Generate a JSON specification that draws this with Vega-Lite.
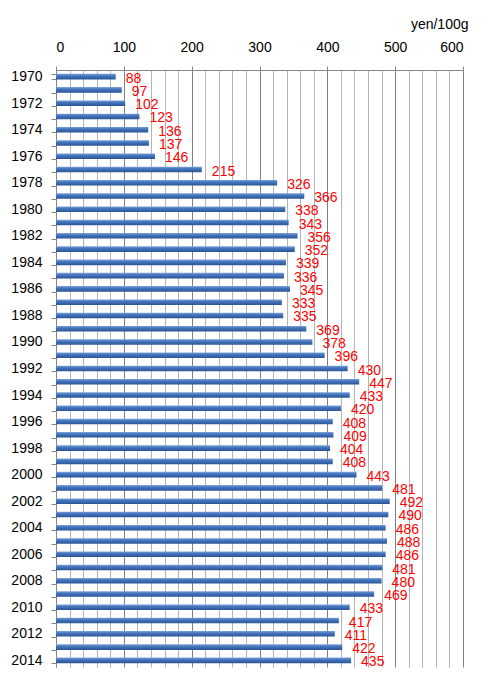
{
  "$schema": "https://vega.github.io/schema/vega-lite/v6.json",
  "autosize": "none",
  "width": 407,
  "height": 597,
  "padding": {"left": 56, "top": 70, "right": 31, "bottom": 22},
  "background": "#ffffff",
  "data": {
    "values": [
      {"year": 1970, "price": 88},
      {"year": 1971, "price": 97},
      {"year": 1972, "price": 102},
      {"year": 1973, "price": 123},
      {"year": 1974, "price": 136},
      {"year": 1975, "price": 137},
      {"year": 1976, "price": 146},
      {"year": 1977, "price": 215},
      {"year": 1978, "price": 326},
      {"year": 1979, "price": 366},
      {"year": 1980, "price": 338},
      {"year": 1981, "price": 343},
      {"year": 1982, "price": 356},
      {"year": 1983, "price": 352},
      {"year": 1984, "price": 339},
      {"year": 1985, "price": 336},
      {"year": 1986, "price": 345},
      {"year": 1987, "price": 333},
      {"year": 1988, "price": 335},
      {"year": 1989, "price": 369},
      {"year": 1990, "price": 378},
      {"year": 1991, "price": 396},
      {"year": 1992, "price": 430},
      {"year": 1993, "price": 447},
      {"year": 1994, "price": 433},
      {"year": 1995, "price": 420},
      {"year": 1996, "price": 408},
      {"year": 1997, "price": 409},
      {"year": 1998, "price": 404},
      {"year": 1999, "price": 408},
      {"year": 2000, "price": 443},
      {"year": 2001, "price": 481},
      {"year": 2002, "price": 492},
      {"year": 2003, "price": 490},
      {"year": 2004, "price": 486},
      {"year": 2005, "price": 488},
      {"year": 2006, "price": 486},
      {"year": 2007, "price": 481},
      {"year": 2008, "price": 480},
      {"year": 2009, "price": 469},
      {"year": 2010, "price": 433},
      {"year": 2011, "price": 417},
      {"year": 2012, "price": 411},
      {"year": 2013, "price": 422},
      {"year": 2014, "price": 435}
    ]
  },
  "encoding": {
    "y": {
      "field": "year",
      "type": "nominal",
      "sort": null,
      "scale": {"paddingInner": 0.58, "paddingOuter": 0.29},
      "axis": {
        "title": null,
        "tickBand": "extent",
        "tickSize": 5,
        "tickColor": "#868686",
        "domainColor": "#868686",
        "labelPadding": 9,
        "labelFontSize": 14,
        "labelColor": "#000000",
        "labelFont": "Liberation Sans",
        "labelExpr": "datum.value % 2 == 0 ? datum.label : ''"
      }
    },
    "x": {
      "field": "price",
      "type": "quantitative",
      "scale": {"domain": [0, 600], "nice": false},
      "axis": {
        "orient": "top",
        "values": [0, 20, 40, 60, 80, 100, 120, 140, 160, 180, 200, 220, 240, 260, 280, 300, 320, 340, 360, 380, 400, 420, 440, 460, 480, 500, 520, 540, 560, 580, 600],
        "labelExpr": "datum.value % 100 == 0 ? datum.label : ''",
        "labelOverlap": false,
        "title": "yen/100g",
        "titleX": 412,
        "titleY": -42,
        "titleAlign": "right",
        "titleBaseline": "alphabetic",
        "titleFontSize": 14,
        "titleFontWeight": "normal",
        "titleFont": "Liberation Sans",
        "titleColor": "#000000",
        "labelFontSize": 14,
        "labelFont": "Liberation Sans",
        "labelColor": "#000000",
        "labelPadding": 12,
        "tickSize": 4,
        "tickColor": "#868686",
        "tickOpacity": {"condition": {"test": "datum.value % 100 == 0", "value": 1}, "value": 0},
        "domainColor": "#868686",
        "grid": true,
        "gridColor": {"condition": {"test": "datum.value % 100 == 0", "value": "#808080"}, "value": "#b4b4b4"},
        "gridOpacity": 1,
        "gridWidth": 1
      }
    }
  },
  "layer": [
    {
      "mark": {
        "type": "bar",
        "color": {
          "gradient": "linear",
          "x1": 0, "y1": 0, "x2": 0, "y2": 1,
          "stops": [
            {"offset": 0, "color": "#7ea3d6"},
            {"offset": 0.35, "color": "#4677c0"},
            {"offset": 1, "color": "#2b5595"}
          ]
        }
      }
    },
    {
      "mark": {
        "type": "text",
        "align": "left",
        "baseline": "middle",
        "dx": 10,
        "dy": 2,
        "fontSize": 14,
        "font": "Liberation Sans",
        "color": "#ff0000"
      },
      "encoding": {
        "text": {"field": "price", "type": "quantitative"}
      }
    }
  ],
  "config": {
    "view": {"stroke": null}
  }
}
